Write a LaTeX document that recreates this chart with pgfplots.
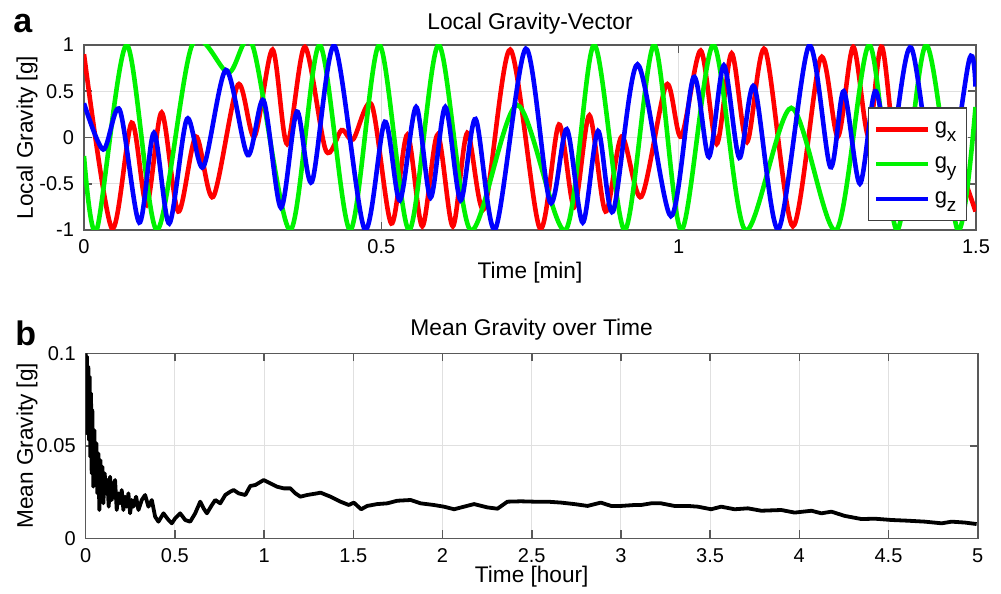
\documentclass[border=0pt]{standalone}
\usepackage{fontspec}
\setmainfont{Liberation Sans}
\usepackage{pgfplots}
\pgfplotsset{compat=1.18}

\definecolor{mred}{rgb}{1,0,0}
\definecolor{mgreen}{rgb}{0,0.95,0}
\definecolor{mblue}{rgb}{0,0,1}
\definecolor{axgray}{gray}{0.35}
\definecolor{gridgray}{gray}{0.88}

\pgfplotsset{
  every axis title shift=0pt,
  matlab/.style={
    scale only axis,
    width=446pt, height=92.5pt,
    axis line style={axgray, line width=0.8pt},
    tick style={axgray, line width=0.8pt},
    tick align=inside,
    major tick length=4pt,
    grid=major,
    major grid style={gridgray, line width=0.5pt},
    ticklabel style={font=\fontsize{10}{11}\selectfont},
    xticklabel style={anchor=base, yshift=-12pt},
    yticklabel style={anchor=east, xshift=-1.5pt},
    label style={font=\fontsize{11.3}{13}\selectfont},
    title style={font=\fontsize{11.4}{13}\selectfont, anchor=base},
    /pgf/number format/assume math mode=true,
  }
}
\newcommand{\sub}[1]{\raisebox{-4pt}{\fontsize{9.5}{10}\selectfont #1}}

\begin{document}
\begin{tikzpicture}
\path[use as bounding box] (-42pt,-182pt) rectangle (458.5pt,115pt);

% panel a
\begin{axis}[matlab,
    xmin=0, xmax=1.5, ymin=-1, ymax=1,
    xtick={0,0.5,1,1.5}, xticklabels={0,0.5,1,1.5},
    ytick={-1,-0.5,0,0.5,1}, yticklabels={-1,-0.5,0,0.5,1},
    title={Local Gravity-Vector},
    title style={at={([yshift=7.8pt]axis description cs:0.5,1)}},
    xlabel={Time [min]},
    xlabel style={at={([yshift=-24pt]axis description cs:0.5,0)}, anchor=base},
    ylabel={Local Gravity [g]},
    ylabel style={at={([xshift=-28.5pt]axis description cs:0,0.5)}, anchor=center},
    legend style={at={(rel axis cs:0.990,0.049)}, anchor=south east,
        draw=black!75, line width=0.6pt, font=\fontsize{11}{12}\selectfont,
        row sep=6pt, inner xsep=3pt, inner ysep=5pt},
    legend cell align=left,
    legend image code/.code={\draw[#1] (0pt,0pt) -- (26pt,0pt);},
]
\addplot[mred, line width=2.3pt, smooth] coordinates {
(0,0.90)(0.0466,-0.98)(0.0802,0.16)(0.1054,-0.73)(0.1306,0.27)(0.1585,-0.80)
(0.1882,0.01)(0.2173,-0.64)(0.2588,0.57)(0.2866,0.01)(0.3171,0.95)(0.3415,-0.07)
(0.3714,0.98)(0.4067,-0.14)(0.4331,0.08)(0.4526,-0.02)(0.4840,0.35)(0.5168,-0.93)
(0.5437,0.03)(0.5689,-0.96)(0.5946,0.03)(0.6202,-0.96)(0.6445,0.05)(0.6731,-0.77)
(0.7168,0.95)(0.7664,-0.98)(0.7987,0.14)(0.8244,-0.75)(0.8499,0.24)(0.8770,-0.80)
(0.9042,0.01)(0.9373,-0.64)(0.9793,0.57)(1.0042,0.01)(1.0370,0.94)(1.0639,-0.07)
(1.0891,0.91)(1.1148,-0.05)(1.1454,0.95)(1.1921,-0.96)(1.2387,0.86)(1.2677,0.01)
(1.2936,0.98)(1.3193,0.01)(1.3420,0.98)(1.3748,-0.55)(1.4303,0.25)(1.4992,-0.8)
};
\addplot[mgreen, line width=2.3pt, smooth] coordinates {
(0,-0.20)(0.0213,-1)(0.0718,1)(0.1227,-1)(0.1818,1)(0.2429,0.70)(0.2832,1)
(0.3467,-1)(0.3961,1)(0.4476,-1)(0.4966,1)(0.5467,-1)(0.5963,1)(0.6499,-1)
(0.7286,0.35)(0.8097,-1)(0.8580,1)(0.9092,-1)(0.9588,1)(1.0045,-1)(1.0583,1)
(1.1118,-1)(1.1894,0.32)(1.2650,-1)(1.3205,1)(1.3672,-1)(1.4163,1)(1.4694,-1)
(1.4992,0.33)
};
\addplot[mblue, line width=2.3pt, smooth] coordinates {
(0,0.37)(0.0324,-0.13)(0.0600,0.30)(0.0929,-0.92)(0.1176,0.05)(0.1434,-0.93)
(0.1731,0.20)(0.2005,-0.32)(0.2387,0.73)(0.2753,-0.19)(0.3020,0.40)(0.3311,-0.76)
(0.3580,0.28)(0.3832,-0.48)(0.4213,0.99)(0.4718,-0.99)(0.5059,0.17)(0.5311,-0.68)
(0.5585,0.33)(0.5829,-0.65)(0.6076,0.33)(0.6333,-0.68)(0.6585,0.20)(0.6916,-0.99)
(0.7429,0.96)(0.7837,-0.70)(0.8118,0.09)(0.8387,-0.92)(0.8644,0.07)(0.8896,-0.80)
(0.9308,0.79)(0.9869,-0.85)(1.0249,0.65)(1.0509,-0.21)(1.0760,0.78)(1.1020,-0.22)
(1.1272,0.55)(1.1677,-0.99)(1.2190,0.99)(1.2551,-0.32)(1.2776,0.50)(1.3047,-0.50)
(1.3303,0.50)(1.3563,-0.15)(1.3911,0.97)(1.4403,-0.85)(1.4886,0.84)(1.4992,0.55)
};
\legend{g\sub{x}, g\sub{y}, g\sub{z}}
\end{axis}

% panel b
\begin{axis}[matlab, at={(0.85pt,-154.15pt)},
    xmin=0, xmax=5, ymin=0, ymax=0.1,
    xtick={0,0.5,1,1.5,2,2.5,3,3.5,4,4.5,5},
    xticklabels={0,0.5,1,1.5,2,2.5,3,3.5,4,4.5,5},
    ytick={0,0.05,0.1}, yticklabels={0,0.05,0.1},
    title={Mean Gravity over Time},
    title style={at={([yshift=9pt]axis description cs:0.5,1)}},
    xlabel={Time [hour]},
    xlabel style={at={([yshift=-22pt]axis description cs:0.5,0)}, anchor=base},
    ylabel={Mean Gravity [g]},
    ylabel style={at={([xshift=-29.3pt]axis description cs:0,0.5)}, anchor=center},
]
\addplot[black, line width=1.9pt, line join=round] coordinates {
(0.000,0.1000)(0.0036,0.0568)(0.0073,0.0982)(0.0110,0.0603)(0.0148,0.0928)
(0.0185,0.0531)(0.0223,0.0874)(0.0260,0.0441)(0.0298,0.0784)(0.0335,0.0351)
(0.0372,0.0694)(0.0429,0.0279)(0.0485,0.0585)(0.0541,0.0315)(0.0597,0.0514)
(0.0653,0.0243)(0.0709,0.0459)(0.0765,0.0153)(0.0822,0.0423)(0.0878,0.0225)
(0.0934,0.0387)(0.0990,0.0189)(0.1065,0.0351)(0.1140,0.0243)(0.1215,0.0315)
(0.1290,0.0171)(0.1365,0.0333)(0.1458,0.0207)(0.1552,0.0279)(0.1646,0.0315)
(0.1739,0.0153)(0.1833,0.0243)(0.1926,0.0189)(0.2020,0.0261)(0.2113,0.0153)
(0.2207,0.0225)(0.2301,0.0171)(0.2394,0.0243)(0.2488,0.0135)(0.2581,0.0207)
(0.2675,0.0171)(0.2825,0.0225)(0.2956,0.0153)(0.3143,0.0207)(0.3330,0.0234)
(0.3517,0.0171)(0.3705,0.0207)(0.3892,0.0117)(0.4079,0.0090)(0.4360,0.0135)
(0.4641,0.0099)(0.4828,0.0081)(0.5015,0.0108)(0.5296,0.0135)(0.5577,0.0099)
(0.5858,0.0090)(0.6138,0.0135)(0.6419,0.0198)(0.6606,0.0162)(0.6794,0.0135)
(0.7074,0.0180)(0.7262,0.0207)(0.7543,0.0189)(0.7823,0.0234)(0.8104,0.0252)
(0.8291,0.0261)(0.8572,0.0243)(0.8947,0.0234)(0.9227,0.0283)(0.9508,0.0288)
(0.9976,0.0315)(1.0350,0.0297)(1.0725,0.0279)(1.1099,0.0270)(1.1474,0.0270)
(1.1754,0.0243)(1.2035,0.0225)(1.2409,0.0234)(1.2971,0.0243)(1.316,0.0247)
(1.372,0.0225)(1.428,0.0198)(1.475,0.0180)(1.503,0.0193)(1.544,0.0157)
(1.578,0.0175)(1.634,0.0185)(1.690,0.0189)(1.746,0.0203)(1.821,0.0207)
(1.877,0.0189)(1.952,0.0180)(2.008,0.0171)(2.065,0.0157)(2.121,0.0171)
(2.177,0.0185)(2.252,0.0167)(2.308,0.0160)(2.364,0.0198)(2.439,0.0200)
(2.514,0.0198)(2.589,0.0198)(2.664,0.0193)(2.739,0.0185)(2.813,0.0175)
(2.888,0.0193)(2.945,0.0175)(3.001,0.0175)(3.076,0.0180)(3.113,0.0180)
(3.169,0.0189)(3.225,0.0189)(3.300,0.0175)(3.375,0.0175)(3.431,0.0171)
(3.506,0.0157)(3.562,0.0171)(3.637,0.0157)(3.712,0.0162)(3.787,0.0149)
(3.899,0.0153)(3.974,0.0139)(4.068,0.0149)(4.124,0.0135)(4.180,0.0144)
(4.255,0.0121)(4.349,0.0104)(4.423,0.0106)(4.517,0.0099)(4.611,0.0095)
(4.704,0.0090)(4.798,0.0081)(4.854,0.0090)(4.929,0.0085)(4.994,0.0077)
};
\end{axis}

\node[anchor=base west, inner sep=0, font=\bfseries\fontsize{17}{18}\selectfont] at (-35.5pt,98.5pt) {a};
\node[anchor=base west, inner sep=0, font=\bfseries\fontsize{17}{18}\selectfont] at (-34.5pt,-57.5pt) {b};
\end{tikzpicture}
\end{document}
